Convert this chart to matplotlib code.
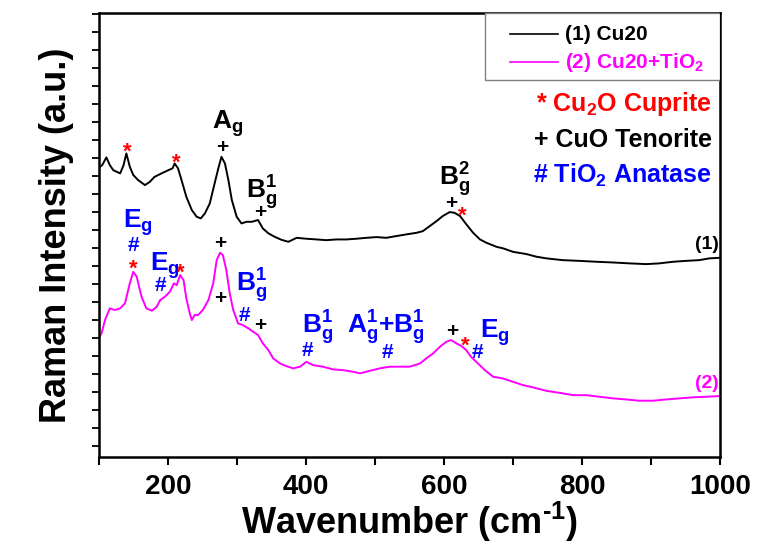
import matplotlib
matplotlib.use("Agg")
import matplotlib.pyplot as plt
from matplotlib.patches import Rectangle
from matplotlib.ticker import MultipleLocator, NullFormatter

# ---------------------------------------------------------------------------
# Data (wavenumber in cm-1, intensity in a.u., offset)
# ---------------------------------------------------------------------------

wn_cu20 = [100, 104, 110, 115, 120, 125, 130, 135, 139, 144, 149, 156, 166,
           173, 180, 190, 200, 206, 209, 214, 219, 226, 234, 241, 247, 253,
           260, 267, 273, 277, 282, 287, 292, 299, 306, 313, 321, 330, 337,
           345, 354, 364, 374, 386, 400, 415, 429, 444, 458, 473, 487, 502,
           516, 531, 545, 560, 569, 579, 589, 598, 608, 615, 623, 632, 642,
           652, 661, 676, 686, 700, 719, 734, 748, 772, 796, 821, 845, 869,
           893, 912, 932, 951, 970, 985, 1000]
int_cu20 = [15.5, 15.61, 16.04, 15.61, 15.33, 15.24, 15.15, 15.61, 16.26,
            15.52, 15.06, 14.78, 14.5, 14.68, 14.96, 15.15, 15.33, 15.43,
            15.7, 15.43, 14.78, 13.85, 13.11, 12.74, 12.65, 12.93, 13.48,
            14.59, 15.52, 16.07, 15.7, 14.78, 13.67, 12.74, 12.37, 12.46,
            12.46, 12.56, 12.09, 11.82, 11.63, 11.46, 11.35, 11.57, 11.52,
            11.48, 11.44, 11.48, 11.48, 11.52, 11.57, 11.61, 11.57, 11.67,
            11.76, 11.85, 11.94, 12.22, 12.5, 12.78, 13.0, 12.96, 12.78,
            12.33, 11.85, 11.48, 11.3, 11.07, 10.98, 10.79, 10.67, 10.52,
            10.43, 10.33, 10.29, 10.24, 10.2, 10.15, 10.11, 10.15, 10.24,
            10.29, 10.33, 10.43, 10.46]

wn_cu20_tio2 = [100, 103, 108, 115, 122, 130, 137, 144, 149, 154, 161, 168,
                176, 183, 188, 195, 202, 208, 212, 217, 222, 226, 231, 234,
                238, 243, 250, 258, 265, 270, 275, 279, 284, 289, 294, 301,
                308, 316, 323, 330, 337, 345, 352, 362, 371, 381, 391, 400,
                410, 424, 439, 453, 468, 478, 492, 507, 521, 536, 550, 565,
                574, 584, 594, 603, 610, 618, 625, 632, 639, 649, 659, 671,
                685, 700, 714, 729, 748, 767, 787, 806, 825, 845, 864, 883,
                903, 922, 941, 961, 980, 1000]
int_cu20_tio2 = [6.07, 6.26, 7.0, 7.65, 7.56, 7.65, 7.93, 9.04, 9.68, 9.41,
                 8.3, 7.65, 7.52, 7.74, 8.11, 8.3, 8.57, 9.04, 8.94, 9.5,
                 9.22, 8.2, 7.37, 7.0, 7.28, 7.28, 7.56, 8.11, 9.04, 10.33,
                 10.74, 10.61, 9.78, 8.48, 7.56, 6.82, 6.72, 6.54, 6.35,
                 6.17, 5.71, 5.33, 4.87, 4.59, 4.44, 4.32, 4.41, 4.68, 4.5,
                 4.41, 4.26, 4.22, 4.13, 4.04, 4.18, 4.32, 4.41, 4.41, 4.41,
                 4.59, 4.87, 5.15, 5.52, 5.79, 5.89, 5.7, 5.56, 5.33, 4.96,
                 4.59, 4.22, 3.85, 3.76, 3.57, 3.39, 3.26, 3.07, 2.96, 2.83,
                 2.83, 2.74, 2.65, 2.59, 2.52, 2.52, 2.59, 2.65, 2.71, 2.74,
                 2.78]

series_labels = ["(1) Cu20", "(2) Cu20+TiO$_2$"]
series_colors = ["black", "#ff00ff"]

x_major = [200, 400, 600, 800, 1000]

# peak markers: (wavenumber, intensity)
RED, BLK, BLU = "#ff0000", "black", "#0000ff"
stars = [(140, 16.35), (211, 15.7), (627, 12.75), (149, 9.85), (217, 9.6),
         (630, 5.55)]
pluses = [(278, 16.61), (333, 13.0), (611, 13.5), (275, 11.28), (275, 8.22),
          (333, 6.72), (612, 6.39)]
hashes = [(149, 11.17), (188, 8.94), (311, 7.28), (402, 5.33), (518, 5.22),
          (649, 5.22)]
modes = [
    ("$A_g$", 286, 17.9, BLK), ("$B_g^1$", 335, 14.1, BLK),
    ("$B_g^2$", 615, 14.8, BLK),
    ("$E_g$", 156, 12.44, BLU), ("$E_g$", 195, 10.05, BLU),
    ("$B_g^1$", 321, 8.94, BLU), ("$B_g^1$", 417, 6.56, BLU),
    ("$A_g^1$+$B_g^1$", 515, 6.56, BLU), ("$E_g$", 673, 6.28, BLU),
]

phase_keys = [("* Cu$_2$O Cuprite", RED),
              ("+ CuO Tenorite", BLK),
              ("# TiO$_2$ Anatase", BLU)]

# ---------------------------------------------------------------------------
# Style
# ---------------------------------------------------------------------------

plt.rcParams["font.family"] = ["Liberation Sans", "DejaVu Sans"]
plt.rcParams["font.weight"] = "bold"
plt.rcParams["mathtext.fontset"] = "custom"
plt.rcParams["mathtext.rm"] = "Liberation Sans:bold"
plt.rcParams["mathtext.it"] = "Liberation Sans:bold"
plt.rcParams["mathtext.bf"] = "Liberation Sans:bold"
plt.rcParams["mathtext.default"] = "rm"

fig = plt.figure(figsize=(7.57, 5.5), dpi=100)
ax = fig.add_axes([0.1314, 0.169, 0.8196, 0.807])

ax.plot(wn_cu20, int_cu20, color=series_colors[0], lw=1.4)
ax.plot(wn_cu20_tio2, int_cu20_tio2, color=series_colors[1], lw=1.4)

ax.set_xlim(100, 1000)
ax.set_ylim(-0.61, 24.05)
ax.set_xticks(x_major)
ax.xaxis.set_minor_locator(MultipleLocator(100))
ax.yaxis.set_major_locator(MultipleLocator(1))
ax.yaxis.set_major_formatter(NullFormatter())
ax.tick_params(axis="x", which="both", direction="out", length=6, width=1.5,
               labelsize=20, pad=6, top=False)
ax.tick_params(axis="y", which="both", direction="out", length=5, width=1.3,
               right=False)
for lab in ax.get_xticklabels():
    lab.set_fontweight("bold")
for sp in ax.spines.values():
    sp.set_linewidth(1.8)

ax.set_xlabel(r"Wavenumber (cm$^{\text{-}1}$)", fontsize=26,
              fontweight="bold", labelpad=0)
ax.set_ylabel("Raman Intensity (a.u.)", fontsize=26, fontweight="bold",
              labelpad=10)

for x, y in stars:
    ax.text(x, y, "*", color=RED, fontsize=16, ha="center", va="center")
for x, y in pluses:
    ax.text(x, y, "+", color=BLK, fontsize=15, ha="center", va="center")
for x, y in hashes:
    ax.text(x, y, "#", color=BLU, fontsize=15, ha="center", va="center")
for txt, x, y, c in modes:
    ax.text(x, y, txt, color=c, fontsize=19, ha="center", va="center")

ax.text(998, 11.2, "(1)", color="black", fontsize=14, ha="right",
        va="center")
ax.text(998, 3.45, "(2)", color=series_colors[1], fontsize=14, ha="right",
        va="center")

for i, (txt, c) in enumerate(phase_keys):
    ax.text(0.987, 0.795 - i * 0.08, txt, color=c, fontsize=18, ha="right",
            va="center", transform=ax.transAxes)

# legend box drawn by hand so it matches the original frame
ax.add_patch(Rectangle((0.621, 0.849), 0.379, 0.151, transform=ax.transAxes,
                       facecolor="white", edgecolor="gray", lw=1.0,
                       zorder=3))
for i, (lab, c) in enumerate(zip(series_labels, series_colors)):
    y = 0.953 - i * 0.063
    ax.plot([0.662, 0.739], [y, y], color=c, lw=1.2,
            transform=ax.transAxes, zorder=4)
    ax.text(0.750, y, lab, color=c, fontsize=15, ha="left", va="center",
            transform=ax.transAxes, zorder=4)

fig.savefig("out.png", dpi=100)
